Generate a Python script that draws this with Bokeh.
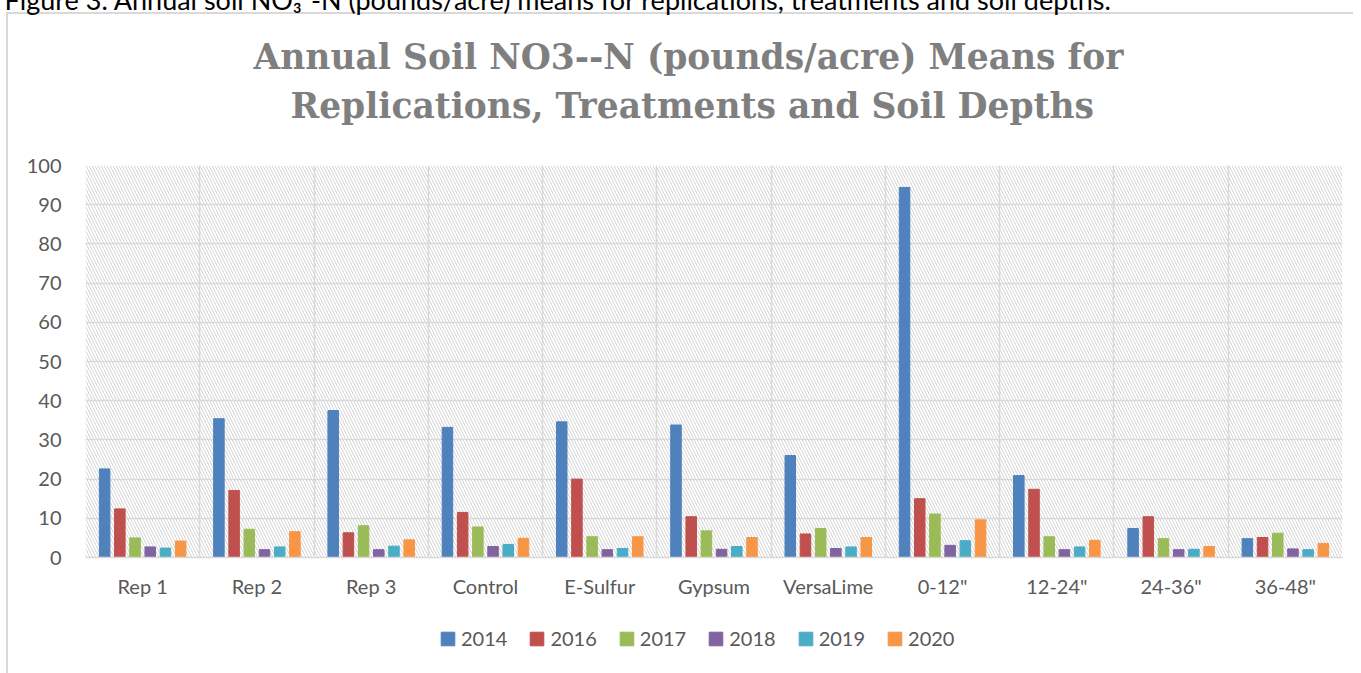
from bokeh.plotting import figure
from bokeh.layouts import column
from bokeh.models import (FixedTicker, Legend, LegendItem, BoxAnnotation, Range1d, Title)
from bokeh.embed import file_html
from bokeh.resources import INLINE

categories = ["Rep 1", "Rep 2", "Rep 3", "Control", "E-Sulfur", "Gypsum", "VersaLime",
              '0-12"', '12-24"', '24-36"', '36-48"']
years = ["2014", "2016", "2017", "2018", "2019", "2020"]
v2014 = [22.6, 35.4, 37.5, 33.2, 34.6, 33.8, 26.0, 94.4, 20.9, 7.4, 4.8]
v2016 = [12.4, 17.1, 6.3, 11.5, 20.0, 10.4, 6.0, 15.0, 17.4, 10.4, 5.1]
v2017 = [5.0, 7.2, 8.1, 7.8, 5.3, 6.8, 7.4, 11.1, 5.3, 4.8, 6.2]
v2018 = [2.7, 2.0, 2.0, 2.8, 2.0, 2.1, 2.3, 3.1, 2.0, 2.0, 2.2]
v2019 = [2.4, 2.7, 2.9, 3.3, 2.3, 2.8, 2.7, 4.3, 2.7, 2.1, 2.0]
v2020 = [4.2, 6.6, 4.5, 4.9, 5.3, 5.1, 5.1, 9.6, 4.4, 2.8, 3.6]
series = [v2014, v2016, v2017, v2018, v2019, v2020]
y_ticks = list(range(0, 101, 10))
colors = ["#4F81BD", "#C0504D", "#9BBB59", "#8064A2", "#4BACC6", "#F79646"]

title_line1 = "Annual Soil NO3--N (pounds/acre) Means for"
title_line2 = "Replications, Treatments and Soil Depths"
caption = "Figure 3. Annual soil NO\u2083\u207b-N (pounds/acre) means for replications, treatments and soil depths."

FONT = "Lato"
TXT = "#595959"
GRID = "#d9d9d9"
SHIFT = 44

n = len(categories)
step = 0.133
width = 0.092

# ---------------- main chart ----------------
p = figure(width=1353, height=651, output_backend="svg", toolbar_location=None,
           x_range=Range1d(0, n), y_range=Range1d(0, 100),
           min_border_left=85, min_border_right=11, min_border_top=165 + SHIFT,
           min_border_bottom=50)
p.title.visible = False
p.outline_line_color = None
p.background_fill_color = "white"
p.border_fill_color = None

# hatched plot area
p.add_layout(BoxAnnotation(fill_alpha=0, line_alpha=0, hatch_pattern="\\", hatch_color="#d4d4d4",
                           hatch_scale=6, hatch_weight=1, level="image"))

for k, (vals, col) in enumerate(zip(series, colors)):
    xs = [i + 0.5 + (k - 2.5) * step for i in range(n)]
    p.vbar(x=xs, top=vals, bottom=0, width=width, fill_color=col, line_color=col)

p.xgrid.ticker = FixedTicker(ticks=list(range(n + 1)))
p.xgrid.grid_line_color = GRID
p.xgrid.grid_line_width = 1.5
p.ygrid.ticker = FixedTicker(ticks=y_ticks)
p.ygrid.grid_line_color = GRID
p.ygrid.grid_line_width = 1.5

p.xaxis.ticker = FixedTicker(ticks=[i + 0.5 for i in range(n)])
p.xaxis.major_label_overrides = {i + 0.5: c for i, c in enumerate(categories)}
p.xaxis.axis_line_color = GRID
p.xaxis.axis_line_width = 1.5
p.xaxis.major_tick_line_color = None
p.xaxis.minor_tick_line_color = None
p.xaxis.major_label_standoff = 10
p.yaxis.ticker = FixedTicker(ticks=y_ticks)
p.yaxis.axis_line_color = None
p.yaxis.major_tick_line_color = None
p.yaxis.minor_tick_line_color = None
p.yaxis.major_label_standoff = 18
for ax in (p.xaxis, p.yaxis):
    ax.major_label_text_font = FONT
    ax.major_label_text_font_size = "20px"
    ax.major_label_text_color = TXT

# spacer between plot area and the title
p.add_layout(Title(text=" ", text_font_size="1px", standoff=37), "above")
p.add_layout(Title(text=title_line2, align="left", offset=205, standoff=0,
                   text_font="DejaVu Serif", text_font_style="bold", text_font_size="34.5px",
                   text_color="#7F7F7F"), "above")
p.add_layout(Title(text=title_line1, align="left", offset=168, standoff=14,
                   text_font="DejaVu Serif", text_font_style="bold", text_font_size="34.5px",
                   text_color="#7F7F7F"), "above")
p.add_layout(Title(text=caption, align="left", offset=-81, standoff=23,
                   text_font=FONT, text_font_style="normal", text_font_size="27px",
                   text_color="black"), "above")

# ---------------- legend strip ----------------
lf = figure(width=1353, height=66, output_backend="svg", toolbar_location=None,
            x_range=Range1d(0, 1), y_range=Range1d(1000, 2000),
            x_axis_type=None, y_axis_type=None,
            min_border_left=0, min_border_right=0, min_border_top=0, min_border_bottom=0)
lf.title.visible = False
lf.outline_line_color = None
lf.background_fill_color = None
lf.border_fill_color = None
lf.xgrid.visible = False
lf.ygrid.visible = False
legend_renderers = []
for vals, col in zip(series, colors):
    r = lf.vbar(x=[i + 0.5 for i in range(n)], top=vals, bottom=0, width=width,
                fill_color=col, line_color=col)
    legend_renderers.append(r)

legend = Legend(items=[LegendItem(label=y, renderers=[r]) for y, r in zip(years, legend_renderers)],
                orientation="horizontal", location=(354, 23), glyph_width=17, glyph_height=17,
                label_standoff=5, spacing=21, padding=0, margin=0, label_height=17,
                border_line_alpha=0, background_fill_alpha=0,
                label_text_font=FONT, label_text_font_size="20px", label_text_color=TXT)
lf.add_layout(legend)

line = "linear-gradient(#d9d9d9, #d9d9d9)"
layout = column(p, lf, spacing=0)
layout.styles = {
    "margin-top": "-%dpx" % SHIFT,
    "background-image": "%s, %s" % (line, line),
    "background-repeat": "no-repeat, no-repeat",
    "background-position": "6px %dpx, 6px %dpx" % (12 + SHIFT, 12 + SHIFT),
    "background-size": "1400px 2px, 2px 800px",
}

open("out.html", "w").write(file_html(layout, INLINE))
